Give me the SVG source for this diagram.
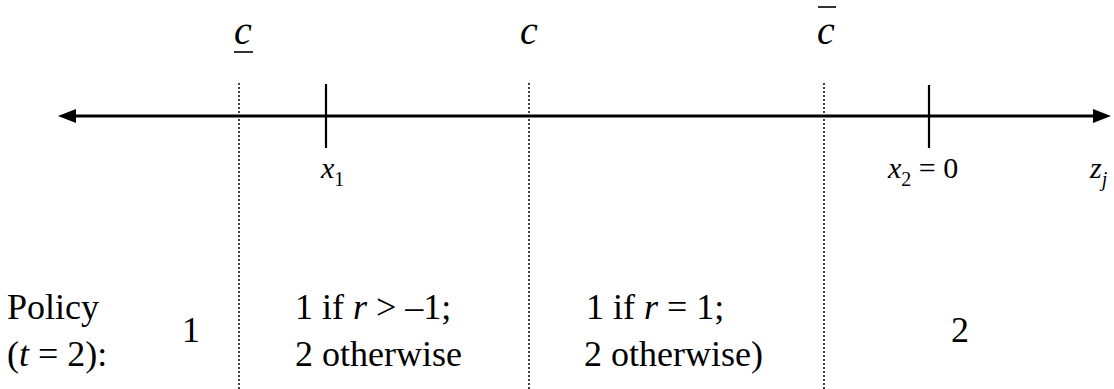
<svg xmlns="http://www.w3.org/2000/svg" width="1114" height="389" viewBox="0 0 1114 389" font-family="'Liberation Serif', 'Times New Roman', Times, serif">
<style>
.it{font-style:italic}
.big{font-size:40px}
.lab{font-size:30px}
.sub{font-size:20px}
.txt{font-size:36px}
.dot{stroke:#000;stroke-width:2;stroke-linecap:round;stroke-dasharray:0 4;fill:none}
.tick{stroke:#000;stroke-width:2.2}
</style>
<rect width="1114" height="389" fill="#fff"/>
<g id="connectors">
  <line x1="239" y1="84" x2="239" y2="389" class="dot"/>
  <line x1="529" y1="84" x2="529" y2="389" class="dot"/>
  <line x1="824" y1="84" x2="824" y2="389" class="dot"/>
  <line x1="70" y1="116" x2="1099" y2="116" stroke="#000" stroke-width="3"/>
  <polygon points="58,116 76,109 76,123" fill="#000"/>
  <polygon points="1111,116 1093,109 1093,123" fill="#000"/>
  <line x1="326" y1="84" x2="326" y2="148" class="tick"/>
  <line x1="929" y1="85" x2="929" y2="148" class="tick"/>
</g>
<g id="c-low">
  <text x="243" y="44" class="big it" text-anchor="middle">c</text>
  <line x1="234" y1="52" x2="253" y2="52" stroke="#000" stroke-width="1.6"/>
</g>
<g id="c-mid">
  <text x="529" y="44" class="big it" text-anchor="middle">c</text>
</g>
<g id="c-high">
  <text x="826" y="44" class="big it" text-anchor="middle">c</text>
  <line x1="818" y1="7" x2="836" y2="7" stroke="#000" stroke-width="1.6"/>
</g>
<g id="x1">
  <text x="321" y="178" class="lab it">x<tspan class="sub" font-style="normal" dy="8">1</tspan></text>
</g>
<g id="x2">
  <text x="888" y="178" class="lab"><tspan class="it">x</tspan><tspan class="sub" dy="8">2</tspan><tspan dy="-8"> = 0</tspan></text>
</g>
<g id="zj">
  <text x="1090" y="178" class="lab it">z<tspan class="sub" dy="8">j</tspan></text>
</g>
<g id="policy">
  <text x="7" y="319" class="txt">Policy</text>
  <text x="7" y="366" class="txt">(<tspan class="it">t</tspan> = 2):</text>
</g>
<g id="region1">
  <text x="191" y="342" class="txt" text-anchor="middle">1</text>
</g>
<g id="region2">
  <text x="295" y="319" class="txt">1 if <tspan class="it">r</tspan> &gt; –1;</text>
  <text x="295" y="366" class="txt">2 otherwise</text>
</g>
<g id="region3">
  <text x="586" y="319" class="txt">1 if <tspan class="it">r</tspan> = 1;</text>
  <text x="584" y="366" class="txt">2 otherwise)</text>
</g>
<g id="region4">
  <text x="960" y="342" class="txt" text-anchor="middle">2</text>
</g>
</svg>
